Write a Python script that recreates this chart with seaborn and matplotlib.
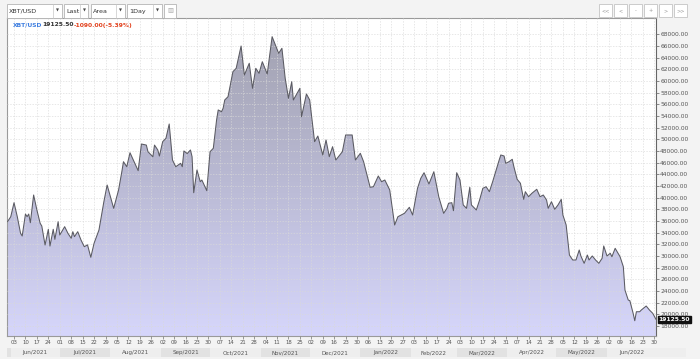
import numpy as np
import pandas as pd
import matplotlib
matplotlib.use("Agg")
import matplotlib.pyplot as plt
import matplotlib.dates as mdates
import seaborn as sns
from matplotlib.patches import Rectangle
from matplotlib.colors import LinearSegmentedColormap
from matplotlib.transforms import blended_transform_factory

# ---------------- data ----------------
start_date = "2021-05-30"
day_offsets = [0, 2, 4, 6, 8, 9, 11, 12, 13, 14, 16, 18, 20, 21, 23, 25, 26, 28, 29, 31,
               32, 35, 37, 39, 40, 41, 43, 45, 47, 49, 51, 53, 56, 59, 61, 63, 65, 68, 70, 71,
               73, 75, 77, 80, 82, 85, 86, 89, 90, 92, 93, 95, 97, 99, 101, 103, 106, 107, 108, 110,
               112, 113, 114, 116, 118, 119, 122, 124, 126, 128, 129, 131, 132, 133, 135, 138, 140, 143, 145, 148,
               150, 152, 154, 156, 159, 162, 164, 166, 168, 170, 172, 174, 175, 179, 180, 183, 185, 188, 190, 193,
               195, 197, 199, 201, 205, 207, 211, 213, 216, 218, 222, 224, 227, 229, 231, 234, 237, 239, 243, 246,
               248, 251, 253, 255, 258, 261, 264, 267, 269, 270, 272, 273, 275, 277, 279, 281, 283, 284, 287, 289,
               291, 293, 295, 297, 299, 301, 302, 304, 305, 307, 309, 310, 312, 314, 316, 317, 319, 321, 324, 326,
               328, 330, 331, 333, 335, 337, 339, 340, 342, 343, 344, 346, 348, 350, 351, 353, 355, 356, 358, 360,
               362, 364, 365, 367, 369, 370, 372, 375, 377, 378, 380, 381, 383, 384, 385, 387, 388, 390, 391, 393,
               395, 397]
closes = [35870, 36730, 39130, 36730, 33880, 33420, 37190, 36730, 37190, 35700, 40450, 37880, 35600, 35130, 31880, 34570, 31700, 34570, 32850, 35870,
          33590, 35020, 33880, 33030, 34160, 33310, 34160, 32740, 31590, 31900, 29770, 32170, 34450, 39300, 42160, 40160, 38170, 41310, 44450, 46160,
          45300, 47700, 46450, 44620, 49190, 49010, 47870, 47010, 49010, 48170, 47130, 49590, 50170, 52620, 46450, 45300, 45880, 45300, 48000, 47550,
          48170, 47010, 40840, 44740, 42730, 43020, 41190, 47870, 48460, 53310, 55030, 54730, 55320, 56740, 57300, 61590, 62170, 65990, 61020, 63030,
          58740, 62170, 61310, 63300, 61190, 67590, 66170, 64740, 65600, 60460, 57030, 59870, 56740, 58740, 53870, 57770, 56740, 49590, 50560, 47310,
          49880, 47020, 48730, 46450, 47870, 50740, 50740, 46450, 47600, 46160, 41770, 41870, 43710, 42730, 43020, 41310, 35310, 36730, 37310, 38340,
          37020, 41600, 43310, 44270, 42340, 44440, 40160, 37310, 38170, 39030, 39130, 37760, 44270, 43020, 38740, 38170, 41770, 38740, 37880, 39590,
          41600, 41870, 41020, 42730, 44620, 46450, 47310, 47140, 45880, 46160, 46570, 45300, 43140, 42460, 39710, 41020, 40160, 40740, 41430, 40160,
          40450, 39590, 38170, 39300, 38000, 38740, 39710, 37020, 35310, 32740, 30160, 29310, 29310, 31020, 30000, 28740, 30160, 29310, 30000, 29310,
          28740, 29600, 31710, 30000, 30460, 29870, 31310, 29870, 28160, 24160, 22450, 22330, 20170, 18900, 20440, 20440, 20730, 21200, 21420, 20730,
          20170, 19125.5]
pair_label = "XBT/USD"
last_price = 19125.50
change_abs = -1090.00
change_pct = -5.39
y_ticks = list(range(18000, 68001, 2000))
toolbar_items = ["XBT/USD", "Last", "Area", "1Day"]
nav_buttons = ["<<", "<", "-", "+", ">", ">>"]
assert len(day_offsets) == len(closes)

# ---------------- style ----------------
sns.set_theme(style="white")
plt.rcParams['font.family'] = ['DejaVu Sans']

dates = pd.to_datetime(start_date) + pd.to_timedelta(day_offsets, unit="D")
df = pd.DataFrame({"date": dates, "close": closes})

W, H = 700, 359
fig = plt.figure(figsize=(W / 100, H / 100), dpi=100, facecolor="#f3f3f3")
L, R, T, B = 7, 656, 18.3, 336
ax = fig.add_axes([L / W, 1 - B / H, (R - L) / W, (B - T) / H])
ax.set_facecolor("white")

YMIN, YMAX = 16280, 70740
xn0 = mdates.date2num(dates[0]) - 0.3
xn1 = mdates.date2num(dates[-1])

# gradient area fill clipped to the area under the curve
poly = ax.fill_between(df["date"], df["close"], YMIN - 2000, facecolor="none", linewidth=0)
cmap = LinearSegmentedColormap.from_list("area", ["#a0a0ae", "#b9b9d3", "#d6d6fb"])
grad = np.linspace(0, 1, 256).reshape(-1, 1)
im = ax.imshow(grad, cmap=cmap, aspect="auto", extent=[xn0, xn1, YMIN, YMAX],
               origin="upper", zorder=1, interpolation="bilinear")
im.set_clip_path(poly.get_paths()[0], transform=ax.transData)

sns.lineplot(data=df, x="date", y="close", ax=ax, color="#5a5a62", linewidth=0.75, zorder=3)

ax.set_xlim(xn0, xn1)
ax.set_ylim(YMIN, YMAX)
ax.set_xlabel("")
ax.set_ylabel("")

# axes / ticks
ax.xaxis.set_major_locator(mdates.WeekdayLocator(byweekday=mdates.TH))
ax.xaxis.set_major_formatter(mdates.DateFormatter("%d"))
ax.yaxis.tick_right()
ax.set_yticks(y_ticks)
ax.set_yticklabels([f"{v:.2f}" for v in y_ticks])
ax.tick_params(axis="y", which="major", direction="out", length=2.2, width=0.6, color="#777777",
               labelsize=4.3, labelcolor="#555555", pad=0.8, right=True, left=False)
ax.tick_params(axis="x", which="major", direction="out", length=1.8, width=0.6, color="#888888",
               labelsize=3.9, labelcolor="#555555", pad=1.2, bottom=True)
ax.set_axisbelow(False)
ax.grid(True, color="#d9d9d9", linestyle=(0, (2, 2)), linewidth=0.5, alpha=0.9)
for side, sp in ax.spines.items():
    sp.set_visible(True)
    sp.set_linewidth(0.8)
    sp.set_color("#9a9a9a")
ax.spines["right"].set_color("#666666")

# last price marker on the right axis
blend_y = blended_transform_factory(ax.transAxes, ax.transData)
ax.text(1.004, last_price, f"{last_price:.2f}", transform=blend_y, ha="left", va="center",
        fontsize=4.3, color="white", fontweight="bold", zorder=10, clip_on=False,
        bbox=dict(boxstyle="square,pad=0.12", fc="#111111", ec="#111111"))

# month band under the axis
blend_x = blended_transform_factory(ax.transData, ax.transAxes)
months = pd.period_range(dates[0].to_period("M"), dates[-1].to_period("M"), freq="M")
band_y0, band_y1 = -0.0665, -0.0375
for m in months:
    ms = max(mdates.date2num(m.start_time), xn0)
    me = min(mdates.date2num((m + 1).start_time), xn1)
    color = "#e2e2e2" if m.month % 2 == 1 else "#eeeeee"
    ax.add_patch(Rectangle((ms, band_y0), me - ms, band_y1 - band_y0, transform=blend_x,
                           facecolor=color, edgecolor="none", clip_on=False, zorder=0))
    if me - ms > 10:
        ax.text((ms + me) / 2, (band_y0 + band_y1) / 2, m.strftime("%b/%Y"), transform=blend_x,
                ha="center", va="center", fontsize=4.1, color="#555555", clip_on=False)

# ---------------- overlay for toolbar & header text (pixel coords) ----------------
oax = fig.add_axes([0, 0, 1, 1])
oax.set_xlim(0, W)
oax.set_ylim(H, 0)
oax.axis("off")
oax.patch.set_alpha(0)

oax.add_patch(Rectangle((R, 336 + 12), 686 - R, 9, facecolor="#eeeeee", edgecolor="none", zorder=0))

boxes = [(7, 62, 53), (64, 88, 80), (91, 125, 116), (127, 162, 153)]
for (bx0, bx1, sep), label in zip(boxes, toolbar_items):
    oax.add_patch(Rectangle((bx0, 4.3), bx1 - bx0, 13.4, facecolor="white", edgecolor="#b4b4b4", linewidth=0.6))
    oax.plot([sep, sep], [4.3, 17.7], color="#c8c8c8", lw=0.5)
    oax.text(bx0 + 2.3, 11.2, label, ha="left", va="center", fontsize=4.6, color="#333333")
    oax.text((sep + bx1) / 2, 11.0, "\u25BC", ha="center", va="center", fontsize=2.8, color="#444444")
oax.add_patch(Rectangle((164, 4.3), 12, 13.4, facecolor="white", edgecolor="#b4b4b4", linewidth=0.6))
oax.text(170, 11, "\u25A5", ha="center", va="center", fontsize=4.5, color="#aaaaaa")

for i, lab in enumerate(nav_buttons):
    bx = 599 + i * 15
    oax.add_patch(Rectangle((bx, 4), 13, 13, facecolor="white", edgecolor="#c4c4c4", linewidth=0.6))
    oax.text(bx + 6.5, 10.7, lab, ha="center", va="center", fontsize=3.6, color="#999999")

oax.text(12.7, 25, pair_label, ha="left", va="center", fontsize=4.3, fontweight="bold", color="#3f7fe0")
oax.text(42.7, 25, f"{last_price:.2f}", ha="left", va="center", fontsize=4.3, fontweight="bold", color="#333333")
oax.text(74, 25, f"{change_abs:.2f}({change_pct:.2f}%)", ha="left", va="center", fontsize=4.3,
         fontweight="bold", color="#e2421e")

fig.savefig("out.png", dpi=100, facecolor=fig.get_facecolor())
